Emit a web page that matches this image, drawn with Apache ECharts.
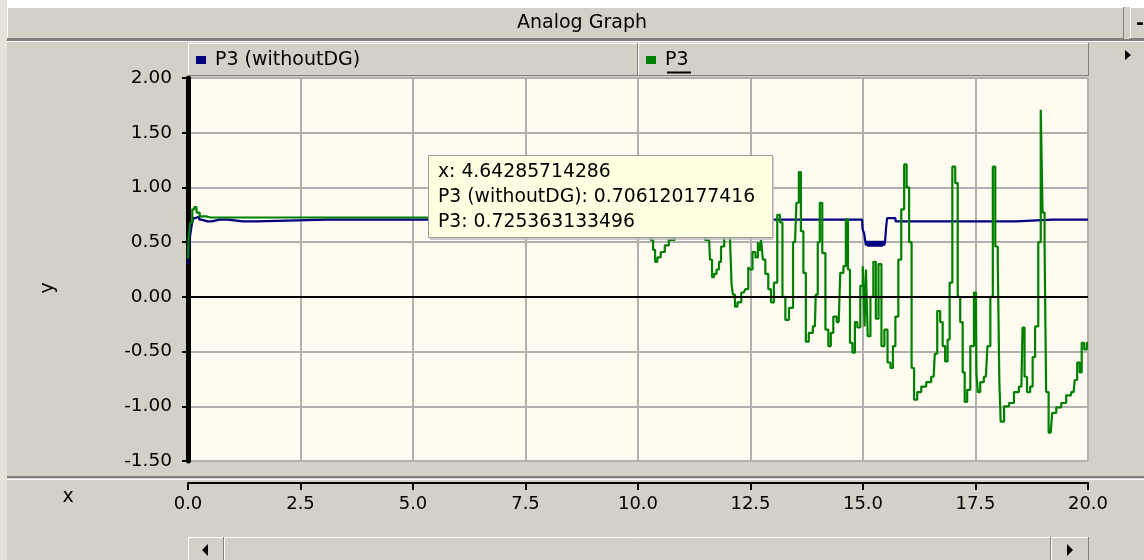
<!DOCTYPE html>
<html>
<head>
<meta charset="utf-8">
<title>Analog Graph</title>
<script src="https://cdn.jsdelivr.net/npm/echarts@6/dist/echarts.min.js"></script>
<style>
  html, body { margin: 0; padding: 0; background: #d4d0c8; }
  #chart { width: 1144px; height: 560px; }
</style>
</head>
<body>
<div id="chart"></div>
<script>
// ---- signal data (time in s, power in p.u.) ----
const withoutDgName = 'P3 (withoutDG)';
const withoutDgTime = [0, 0.03, 0.06, 0.1, 0.14, 0.2, 0.3, 0.34, 0.345, 0.52, 0.525, 0.89, 0.895, 1.53, 1.535,
  4.64285714286, 14.98, 15.0, 15.05, 15.08, 15.105, 15.13, 15.155, 15.18, 15.205, 15.23, 15.255, 15.28, 15.305,
  15.33, 15.355, 15.38, 15.405, 15.43, 15.455, 15.48, 15.5, 15.52, 15.55,
  15.72, 15.725, 18.4, 18.405, 20];
const withoutDgValues = [0.30, 0.38, 0.55, 0.65, 0.72, 0.735, 0.706, 0.706, 0.69, 0.69, 0.706, 0.706, 0.69, 0.69, 0.706,
  0.706120177416, 0.706, 0.62, 0.58, 0.47, 0.51, 0.46, 0.51, 0.46, 0.51, 0.46, 0.51, 0.46, 0.51,
  0.46, 0.51, 0.46, 0.51, 0.46, 0.51, 0.47, 0.50, 0.62, 0.72,
  0.72, 0.69, 0.69, 0.706, 0.706];

const withDgName = 'P3';
const withDgTime = [0, 0.03, 0.07, 0.12, 0.16, 0.22, 0.3, 0.5, 4.64285714286, 10.2, 10.25, 10.31,
  10.36, 10.40, 10.46, 10.55, 10.64, 10.73, 10.9, 11.13, 11.4, 11.58, 11.62, 11.67, 11.71, 11.78, 11.82, 11.87,
  11.96, 12.02, 12.07, 12.09, 12.13, 12.18, 12.24, 12.35, 12.42, 12.48, 12.51, 12.58, 12.64, 12.69, 12.72, 12.75,
  12.80, 12.86, 12.93, 12.98, 13.06, 13.13, 13.18, 13.24, 13.31, 13.40, 13.49, 13.55, 13.60, 13.64, 13.71, 13.75,
  13.84, 13.93, 13.97, 14.02, 14.06, 14.13, 14.20, 14.26, 14.31, 14.37, 14.46, 14.53, 14.60, 14.64, 14.69, 14.73,
  14.80, 14.84, 14.91, 14.97, 15.02, 15.05, 15.08, 15.13, 15.20, 15.26, 15.31, 15.38, 15.44, 15.51, 15.58, 15.64,
  15.69, 15.75, 15.82, 15.88, 15.95, 15.99, 16.06, 16.10, 16.17, 16.24, 16.35, 16.46, 16.57, 16.62, 16.68, 16.75,
  16.79, 16.86, 16.90, 16.95, 17.02, 17.08, 17.13, 17.19, 17.24, 17.28, 17.35, 17.42, 17.51, 17.53, 17.57, 17.64,
  17.73, 17.80, 17.86, 17.91, 17.97, 18.02, 18.04, 18.08, 18.19, 18.30, 18.41, 18.52, 18.57, 18.61, 18.68, 18.75,
  18.79, 18.86, 18.93, 18.97, 19.01, 19.06, 19.08, 19.17, 19.24, 19.35, 19.46, 19.57, 19.68, 19.73, 19.79, 19.84,
  19.88, 19.95, 20.0];
const withDgValues = [0.35, 0.55, 0.68, 0.80, 0.82, 0.77, 0.735, 0.725, 0.725363133496, 0.725, 0.60, 0.52,
  0.43, 0.32, 0.36, 0.41, 0.47, 0.52, 0.70, 0.85, 0.75, 0.52, 0.34, 0.18, 0.21, 0.25, 0.32, 0.46,
  0.78, 0.62, 0.52, 0.11, 0.02, -0.09, -0.05, 0.04, 0.07, 0.27, 0.25, 0.41, 0.36, 0.50, 0.42, 0.52,
  0.34, 0.21, 0.07, -0.05, 0.13, 0.75, 0.68, 0.0, -0.21, -0.10, 0.50, 0.86, 1.14, 0.60, 0.22, -0.41,
  -0.33, -0.27, 0.02, 0.50, 0.86, 0.40, -0.30, -0.45, -0.33, -0.18, -0.23, 0.22, 0.28, 0.71, 0.25, -0.42,
  -0.51, -0.23, -0.28, 0.10, 0.28, -0.27, 0.25, -0.36, 0.0, 0.32, -0.20, 0.30, -0.45, -0.30, -0.60, -0.65,
  -0.45, -0.18, 0.34, 0.80, 1.21, 1.00, 0.50, -0.65, -0.94, -0.87, -0.82, -0.78, -0.73, -0.52, -0.13, -0.23,
  -0.45, -0.59, -0.39, 0.13, 1.19, 1.04, 0.0, -0.23, -0.69, -0.96, -0.85, -0.45, 0.04, -0.69, -0.87, -0.78,
  -0.73, -0.45, 0.0, 1.19, 0.46, 0.30, -0.78, -1.14, -1.00, -0.97, -0.87, -0.82, -0.28, -0.73, -0.87, -0.82,
  -0.55, -0.27, 0.50, 1.71, 0.77, 0.46, -0.87, -1.24, -1.06, -1.01, -0.97, -0.90, -0.87, -0.76, -0.60, -0.69,
  -0.42, -0.48, -0.42];

// axis ranges
const xRange = { min: 0, max: 20, step: 2.5 };
const yRange = { min: -1.5, max: 2, step: 0.5 };

// cursor read-out position
const cursorX = 4.64285714286;

// ---- styling ----
const FONT = 'DejaVu Sans';
const FACE = '#d4d0c8';
const LIGHT = '#ffffff';
const SHADOW = '#808080';
const BLUE = '#000080';
const GREEN = '#008000';

function pairs(t, v) { return t.map((x, i) => [x, v[i]]); }
function valueAt(t, v, x) { return v[t.indexOf(x)]; }

// raised Windows-style panel
function bevel(x, y, w, h, z) {
  return [
    { type: 'rect', z: z, shape: { x: x, y: y, width: w, height: h }, style: { fill: FACE } },
    { type: 'line', z: z, shape: { x1: x, y1: y + 0.5, x2: x + w, y2: y + 0.5 }, style: { stroke: LIGHT, lineWidth: 1 } },
    { type: 'line', z: z, shape: { x1: x + 0.5, y1: y, x2: x + 0.5, y2: y + h }, style: { stroke: LIGHT, lineWidth: 1 } },
    { type: 'line', z: z, shape: { x1: x, y1: y + h - 0.5, x2: x + w, y2: y + h - 0.5 }, style: { stroke: SHADOW, lineWidth: 1 } },
    { type: 'line', z: z, shape: { x1: x + w - 0.5, y1: y, x2: x + w - 0.5, y2: y + h }, style: { stroke: SHADOW, lineWidth: 1 } }
  ];
}

const readout = [
  'x: ' + cursorX,
  withoutDgName + ': ' + valueAt(withoutDgTime, withoutDgValues, cursorX),
  withDgName + ': ' + valueAt(withDgTime, withDgValues, cursorX)
];

const graphics = [].concat(
  [
    { type: 'rect', z: 0, shape: { x: 0, y: 0, width: 1144, height: 7 }, style: { fill: '#ffffff' } },
    { type: 'rect', z: 0, shape: { x: 0, y: 0, width: 7, height: 560 }, style: { fill: '#e6e3dd' } }
  ],
  bevel(7, 7, 1117, 32, 1),
  bevel(1130, 7, 20, 32, 1),
  [
    { type: 'text', z: 2, x: 582, y: 23, style: { text: 'Analog Graph', font: '19px "' + FONT + '"', fill: '#000', align: 'center', verticalAlign: 'middle' } },
    { type: 'text', z: 2, x: 1140, y: 24, style: { text: '-', font: 'bold 19px "' + FONT + '"', fill: '#000', align: 'center', verticalAlign: 'middle' } },
    { type: 'line', z: 1, shape: { x1: 7, y1: 40, x2: 1144, y2: 40 }, style: { stroke: SHADOW, lineWidth: 2 } },
    { type: 'line', z: 1, shape: { x1: 7, y1: 41.5, x2: 1144, y2: 41.5 }, style: { stroke: LIGHT, lineWidth: 1 } }
  ],
  bevel(188, 43, 450, 33, 1),
  bevel(638, 43, 451, 33, 1),
  [
    { type: 'line', z: 5, shape: { x1: 667, y1: 72.5, x2: 691, y2: 72.5 }, style: { stroke: '#000', lineWidth: 2 } },
    { type: 'polygon', z: 2, shape: { points: [[1125, 50], [1131, 55], [1125, 60]] }, style: { fill: '#000' } },
    { type: 'line', z: 1, shape: { x1: 7, y1: 477, x2: 1144, y2: 477 }, style: { stroke: SHADOW, lineWidth: 2 } },
    { type: 'line', z: 1, shape: { x1: 7, y1: 479.5, x2: 1144, y2: 479.5 }, style: { stroke: LIGHT, lineWidth: 1 } }
  ],
  bevel(188, 537, 36, 30, 1),
  bevel(224, 537, 827, 30, 1),
  bevel(1051, 537, 38, 30, 1),
  [
    { type: 'polygon', z: 2, shape: { points: [[208, 544], [202, 550], [208, 556]] }, style: { fill: '#000' } },
    { type: 'polygon', z: 2, shape: { points: [[1067, 544], [1073, 550], [1067, 556]] }, style: { fill: '#000' } },
    { type: 'text', z: 2, x: 68, y: 497, style: { text: 'x', font: '19px "' + FONT + '"', fill: '#000', align: 'center', verticalAlign: 'middle' } },
    { type: 'text', z: 2, x: 48, y: 288, rotation: Math.PI / 2, style: { text: 'y', font: '19px "' + FONT + '"', fill: '#000', align: 'center', verticalAlign: 'middle' } }
  ],
  [
    {
      type: 'group', z: 100, x: 428, y: 155,
      children: [
        { type: 'rect', z: 100, shape: { x: 0.5, y: 0.5, width: 344, height: 82 }, style: { fill: '#ffffe1', stroke: '#9c9c9c', lineWidth: 1 } },
        { type: 'line', z: 100, shape: { x1: 345, y1: 2, x2: 345, y2: 84 }, style: { stroke: '#b8b8b8', lineWidth: 1.5 } },
        { type: 'line', z: 100, shape: { x1: 2, y1: 84, x2: 345, y2: 84 }, style: { stroke: '#b8b8b8', lineWidth: 1.5 } }
      ].concat(readout.map((s, i) => ({
        type: 'text', z: 101, x: 10, y: 17 + 25 * i,
        style: { text: s, font: '18.8px "' + FONT + '"', fill: '#000', align: 'left', verticalAlign: 'middle' }
      })))
    }
  ]
);

const legendText = { fontFamily: FONT, fontSize: 19, color: '#000', lineHeight: 20, padding: [0, 0, 0, 4] };

const chart = echarts.init(document.getElementById('chart'), null, { renderer: 'canvas' });
chart.setOption({
  animation: false,
  backgroundColor: FACE,
  textStyle: { fontFamily: FONT },
  graphic: graphics,
  legend: [
    {
      data: [withoutDgName], left: 196, top: 50, padding: 0, z: 10,
      icon: 'rect', itemWidth: 10, itemHeight: 8, selectedMode: false, textStyle: legendText
    },
    {
      data: [withDgName], left: 646, top: 50, padding: 0, z: 10,
      icon: 'rect', itemWidth: 10, itemHeight: 8, selectedMode: false, textStyle: legendText
    }
  ],
  grid: {
    left: 188, top: 78, width: 900, height: 383,
    show: true, backgroundColor: '#fffbf0', borderWidth: 0, containLabel: false
  },
  xAxis: {
    type: 'value', min: xRange.min, max: xRange.max, interval: xRange.step,
    position: 'bottom', offset: 22,
    axisLine: { show: true, onZero: false, lineStyle: { color: '#000', width: 2 } },
    axisTick: { show: true, inside: false, length: 7, lineStyle: { color: '#000', width: 2 } },
    axisLabel: { margin: 12, color: '#000', fontFamily: FONT, fontSize: 18, formatter: v => v.toFixed(1) },
    splitLine: { show: true, lineStyle: { color: '#b0b0b0', width: 2 } }
  },
  yAxis: {
    type: 'value', min: yRange.min, max: yRange.max, interval: yRange.step,
    axisLine: { show: true, onZero: false, lineStyle: { color: '#000', width: 5 } },
    axisTick: { show: true, inside: false, length: 6, lineStyle: { color: '#000', width: 2 } },
    axisLabel: { margin: 16, color: '#000', fontFamily: FONT, fontSize: 18.5, formatter: v => v.toFixed(2) },
    splitLine: { show: true, lineStyle: { color: '#b0b0b0', width: 2 } }
  },
  series: [
    {
      name: withoutDgName, type: 'line', data: pairs(withoutDgTime, withoutDgValues),
      step: 'middle', showSymbol: false, symbol: 'none', color: BLUE, lineStyle: { color: BLUE, width: 2.2 },
      silent: true,
      markLine: {
        silent: true, symbol: ['none', 'none'], label: { show: false },
        lineStyle: { color: '#000', width: 2, type: 'solid' },
        data: [{ yAxis: 0 }]
      }
    },
    {
      name: withDgName, type: 'line', data: pairs(withDgTime, withDgValues),
      step: 'middle', showSymbol: false, symbol: 'none', color: GREEN, lineStyle: { color: GREEN, width: 2.2 },
      silent: true
    }
  ]
});
</script>
</body>
</html>
